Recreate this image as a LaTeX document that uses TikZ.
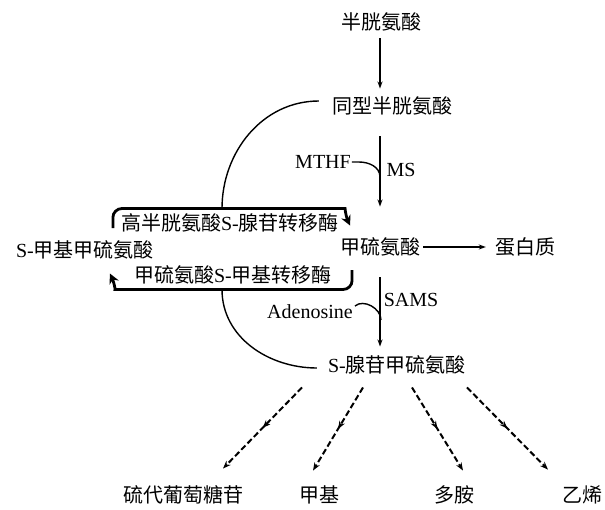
\documentclass[tikz,border=0pt]{standalone}
\usepackage{fontspec}
\setmainfont{Liberation Serif}
\newfontfamily\cjk{Noto Sans CJK SC}
\usetikzlibrary{arrows.meta,calc,decorations.markings}
\newcommand\zh[1]{{\cjk #1}}

\begin{document}
\begin{tikzpicture}[x=1pt,y=1pt,
	lbl/.style={font=\fontsize{20}{22}\selectfont, inner sep=1pt},
	flow/.style={line width=1.2pt, -{Stealth[length=7pt,width=5pt]}},
	enz/.style={line width=2.8pt, rounded corners=9pt, -{Stealth[length=10pt,width=10pt]}},
	curveline/.style={line width=1.4pt},
	dasharr/.style={line width=2pt, dash pattern=on 6pt off 3pt,
		-{Stealth[length=8pt,width=6pt]}, postaction={decorate},
		decoration={markings, mark=at position 0.5 with {\arrow{Stealth[length=8pt,width=6pt]}}}}]
	\useasboundingbox (0,0) rectangle (605,-509);
	%%%%% metabolites %%%%%
	\node[lbl] (cys) at (381,-22) {\zh{半胱氨酸}};
	\node[lbl] (hcy) at (392,-106) {\zh{同型半胱氨酸}};
	\node[lbl] (met) at (380,-247) {\zh{甲硫氨酸}};
	\node[lbl] (prot) at (525,-247) {\zh{蛋白质}};
	\node[lbl] (smm) at (85,-250) {S-\zh{甲基甲硫氨酸}};
	\node[lbl] (sam) at (397,-365) {S-\zh{腺苷甲硫氨酸}};
	\node[lbl] (glu) at (183,-495) {\zh{硫代葡萄糖苷}};
	\node[lbl] (methyl) at (319,-495) {\zh{甲基}};
	\node[lbl] (poly) at (454,-495) {\zh{多胺}};
	\node[lbl] (eth) at (582,-495) {\zh{乙烯}};
	%%%%% enzymes and cofactors %%%%%
	\node[lbl] (mthf) at (323,-162) {MTHF};
	\node[lbl] (ms) at (401,-170) {MS};
	\node[lbl] (aden) at (310,-312) {Adenosine};
	\node[lbl] (sams) at (411,-300) {SAMS};
	\node[lbl] (hmt) at (230,-223) {\zh{高半胱氨酸}S-\zh{腺苷转移酶}};
	\node[lbl] (mmt) at (233,-275) {\zh{甲硫氨酸}S-\zh{甲基转移酶}};
	
	\coordinate (axis) at (380,0);
	\draw[flow] ($(cys.south -| axis)+(0,-6)$) -- ($(hcy.north -| axis)+(0,7)$);
	\draw[flow] ($(hcy.south -| axis)+(0,-20)$) -- ($(met.north -| axis)+(0,30)$);
	\draw[flow] ($(met.south -| axis)+(0,-20)$) -- ($(sam.north -| axis)+(0,8)$);
	\draw[flow] ($(met.east)+(2,0)$) -- ($(prot.west)+(-8,0)$);
	
	%%%%% side hooks %%%%%
	\coordinate (msj) at (380,-177);
	\coordinate (adj) at (381,-320);
	\draw[curveline] (mthf.east) -- ++(7,0) to[out=0,in=90] (msj);
	\draw[curveline] ($(aden.east)+(1,6)$) to[out=40,in=90] (adj);
	
	%%%%% transferase loops %%%%%
	\coordinate (h1) at ($(hmt.west)+(-7,-5)$);
	\coordinate (h2) at ($(hmt.north east)+(-4,4)$);
	\draw[enz] (h1) |- (h2) to[out=0,in=115] ++(14,-17);
	\coordinate (m1) at ($(mmt.east)+(19,5)$);
	\coordinate (m2) at ($(mmt.south west)+(-9,-4)$);
	\draw[enz] (m1) |- (m2) to[out=180,in=-65] ++(-14,16);
	
	\draw[curveline] ($(hcy.west)+(-12,5)$) to[out=180,in=90] (h2 -| 222,0);
	\draw[curveline] (m2 -| 222,0) to[out=-90,in=180] ($(sam.west)+(-10,-3)$);
	
	%%%%% products of SAM %%%%%
	\draw[dasharr] ($(sam.south)+(-95,-12)$) -- ($(glu.north)+(40,16)$);
	\draw[dasharr] ($(sam.south)+(-34,-12)$) -- ($(methyl.north)+(-6,14)$);
	\draw[dasharr] ($(sam.south)+(15,-12)$) -- ($(poly.north)+(9,14)$);
	\draw[dasharr] ($(sam.south)+(70,-12)$) -- ($(eth.north)+(-34,15)$);
\end{tikzpicture}
\end{document}
